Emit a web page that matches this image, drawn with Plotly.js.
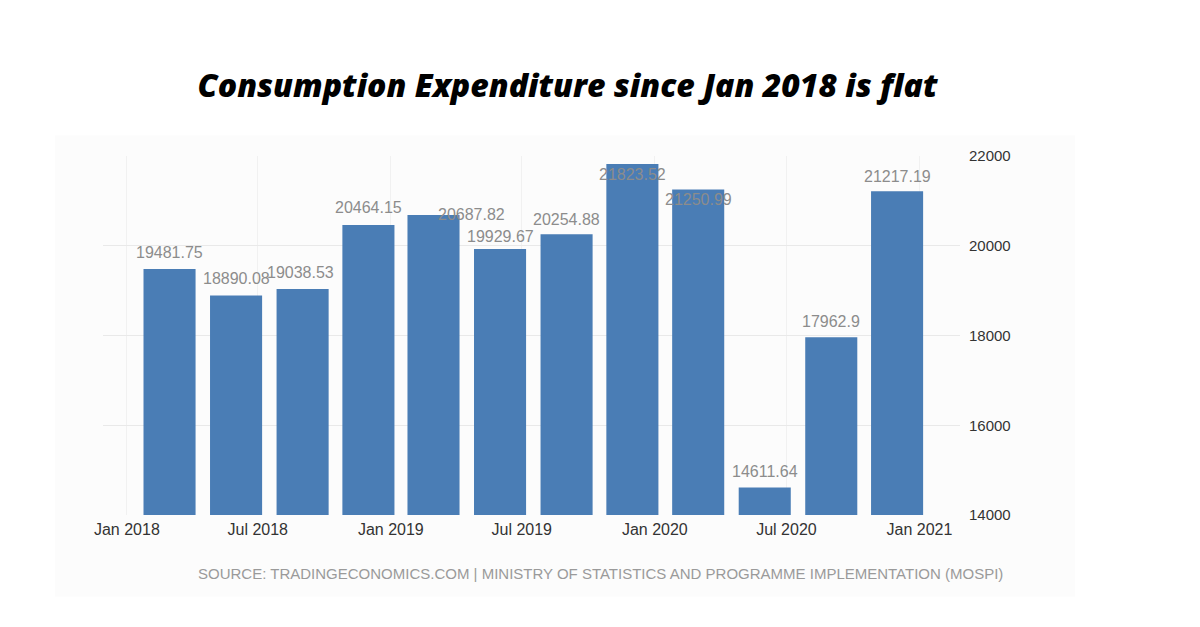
<!DOCTYPE html>
<html>
<head>
<meta charset="utf-8">
<script src="https://cdn.plot.ly/plotly-3.0.1.min.js"></script>
<style>html,body{margin:0;padding:0;background:#fff;}#chart{width:1200px;height:627px;}</style>
</head>
<body>
<div id="chart"></div>
<script>
// Data (quarterly, Mar 2018 – Dec 2020)
const periods = ['2018-03-01','2018-06-01','2018-09-01','2018-12-01','2019-03-01','2019-06-01','2019-09-01','2019-12-01','2020-03-01','2020-06-01','2020-09-01','2020-12-01'];
const values = [19481.75, 18890.08, 19038.53, 20464.15, 20687.82, 19929.67, 20254.88, 21823.52, 21250.99, 14611.64, 17962.9, 21217.19];
const tickDates = ['2018-01-01','2018-07-01','2019-01-01','2019-07-01','2020-01-01','2020-07-01','2021-01-01'];
const tickLabels = ['Jan 2018','Jul 2018','Jan 2019','Jul 2019','Jan 2020','Jul 2020','Jan 2021'];
const yTicks = [14000, 16000, 18000, 20000, 22000];

// label placement tweaks (pixels) to mirror the reference's label layout
const labelYShift = [17, 17, 16, 17, 0, 12, 15, -11, -10, 16, 16, 15];
const labelXShift = [0, 0, -2, 0, 38, 0, 0, 0, 0, 0, 0, 0];

const barColor = '#4a7db5';
const dayMs = 86400000;

const trace = {
  type: 'bar',
  x: periods,
  y: values,
  width: periods.map(() => 72 * dayMs),
  marker: {color: barColor, line: {width: 0}},
  hoverinfo: 'x+y'
};

const annotations = values.map((v, i) => ({
  x: periods[i], y: v, xref: 'x', yref: 'y',
  text: String(v), showarrow: false,
  xanchor: 'center', yanchor: 'middle',
  yshift: labelYShift[i], xshift: labelXShift[i],
  font: {family: 'Liberation Sans, Arial, sans-serif', size: 16, color: '#8c8c8c'}
}));

annotations.push({
  xref: 'paper', yref: 'paper', x: 0.581, y: 0,
  text: 'SOURCE: TRADINGECONOMICS.COM | MINISTRY OF STATISTICS AND PROGRAMME IMPLEMENTATION (MOSPI)',
  showarrow: false, xanchor: 'center', yanchor: 'middle',
  yshift: -58,
  font: {family: 'Liberation Sans, Arial, sans-serif', size: 15, color: '#9a9a9a'}
});

const layout = {
  width: 1200, height: 627,
  margin: {l: 103, r: 240, t: 156, b: 112},
  paper_bgcolor: '#ffffff',
  plot_bgcolor: 'rgba(0,0,0,0)',
  showlegend: false,
  title: {
    text: 'Consumption Expenditure since Jan 2018 is flat',
    x: 0.473, xanchor: 'center', y: 0.863, yanchor: 'middle',
    font: {family: 'Open Sans, Noto Sans, sans-serif', size: 32, color: '#000', weight: 800, style: 'italic'}
  },
  xaxis: {
    type: 'date',
    range: ['2017-11-29', '2021-02-26'],
    tickmode: 'array', tickvals: tickDates, ticktext: tickLabels,
    showgrid: true, gridcolor: '#f1f1f1', gridwidth: 1,
    zeroline: false, showline: false, ticks: '',
    tickfont: {family: 'Liberation Sans, Arial, sans-serif', size: 16, color: '#333'},
    ticklabelstandoff: 3
  },
  yaxis: {
    side: 'right',
    range: [14000, 22000],
    tickmode: 'array', tickvals: yTicks, ticktext: yTicks.map(String),
    showgrid: true, gridcolor: '#e9e9e9', gridwidth: 1,
    zeroline: false, showline: false, ticks: '',
    tickfont: {family: 'Liberation Sans, Arial, sans-serif', size: 15, color: '#333'},
    ticklabelstandoff: 8
  },
  shapes: [{
    type: 'rect', xref: 'paper', yref: 'paper', layer: 'below',
    x0: -0.056, x1: 1.134, y0: -0.228, y1: 1.058,
    fillcolor: '#fcfcfc', line: {width: 0}
  }],
  annotations: annotations
};

Plotly.newPlot('chart', [trace], layout, {displayModeBar: false, staticPlot: true});
</script>
</body>
</html>
